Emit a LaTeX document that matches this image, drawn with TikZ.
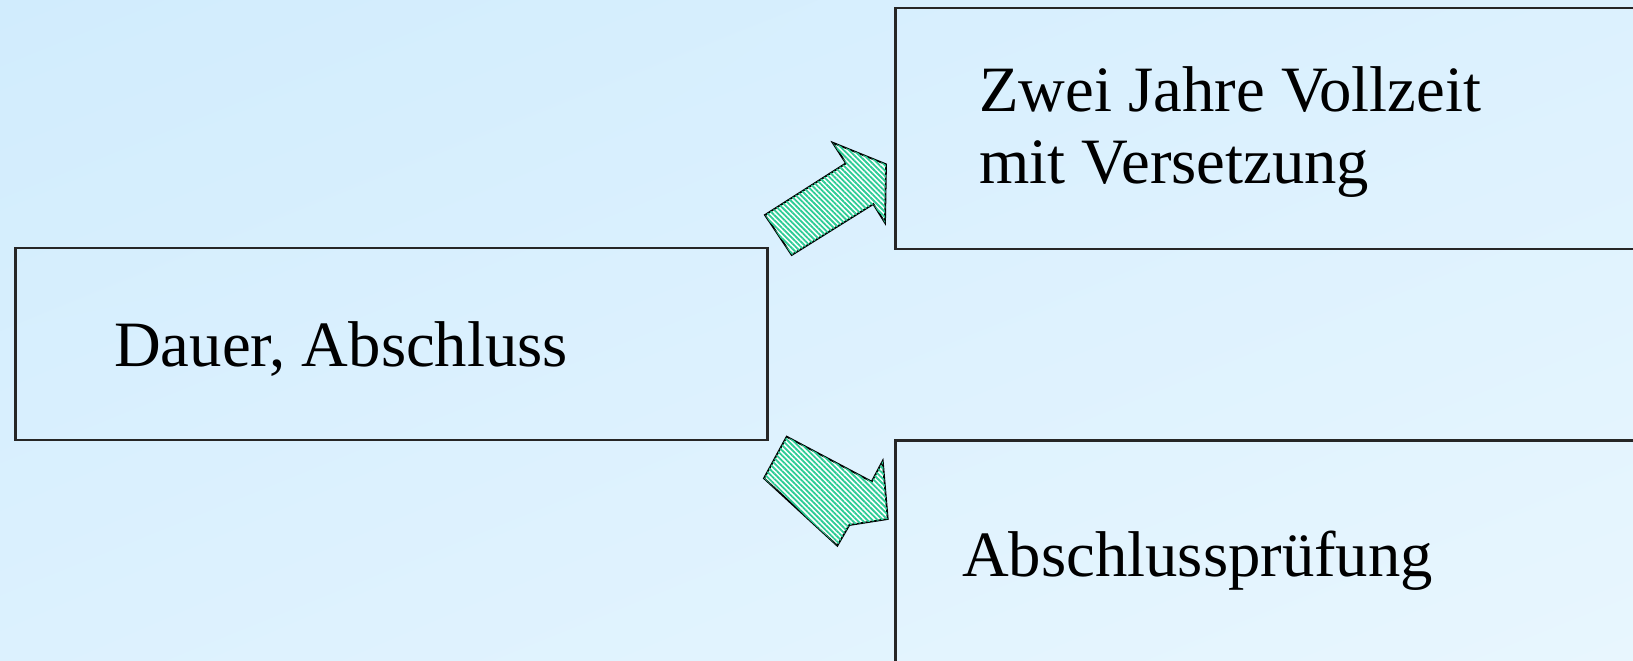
\documentclass[tikz,border=0pt]{standalone}
\usepackage{fontspec}
\setmainfont{Liberation Serif}
\usetikzlibrary{patterns.meta,shadings}
\definecolor{bgtop}{RGB}{209,236,253}
\definecolor{bgbot}{RGB}{232,246,254}
\definecolor{bgmid}{RGB}{220,241,254}
\definecolor{stripe}{RGB}{45,204,150}
\tikzset{
  box/.style={draw=black!85,line width=1.5pt},
  label/.style={anchor=base west,inner sep=0pt,align=left,
    font=\fontsize{46}{50.8}\selectfont},
  blockarrow/.style={draw=black,line width=1.3pt,line join=miter,fill=white,
    postaction={pattern={Lines[angle=-45,distance=2.6pt,line width=1.3pt]},pattern color=stripe}}
}
\begin{document}
\begin{tikzpicture}[x=0.025cm,y=-0.025cm]
        \useasboundingbox (0,0) rectangle (1633,661);
        \clip (0,0) rectangle (1633,661);
        \shade [upper left=bgtop,upper right=bgmid,lower left=bgmid,lower right=bgbot] (0,0) rectangle (1633,661);
        % boxes
        \draw [box] (15.5,248) rectangle (767.5,440);
        \draw [box] (895.5,8.4) rectangle (1660,248.7);
        \draw [box] (895.5,440.5) rectangle (1660,700);
        % arrows
        \draw [blockarrow] (765,215) -- (846,163.3) -- (832.7,142.7) -- (886,164.3) -- (885,222.7) -- (873.3,204) -- (791.7,255) -- cycle;
        \draw [blockarrow] (786.7,436.7) -- (871.7,481.7) -- (882.7,461) -- (887.7,519) -- (849.3,525) -- (837.3,545.7) -- (764,478.3) -- cycle;
        % texts
        \node (dauer) [label] at (114,367) {Dauer, Abschluss};
        \node (zwei) [label] at (979,183.3) {Zwei Jahre Vollzeit\\mit Versetzung};
        \node (pruefung) [label] at (962,577) {Abschlussprüfung};
    \end{tikzpicture}
\end{document}
